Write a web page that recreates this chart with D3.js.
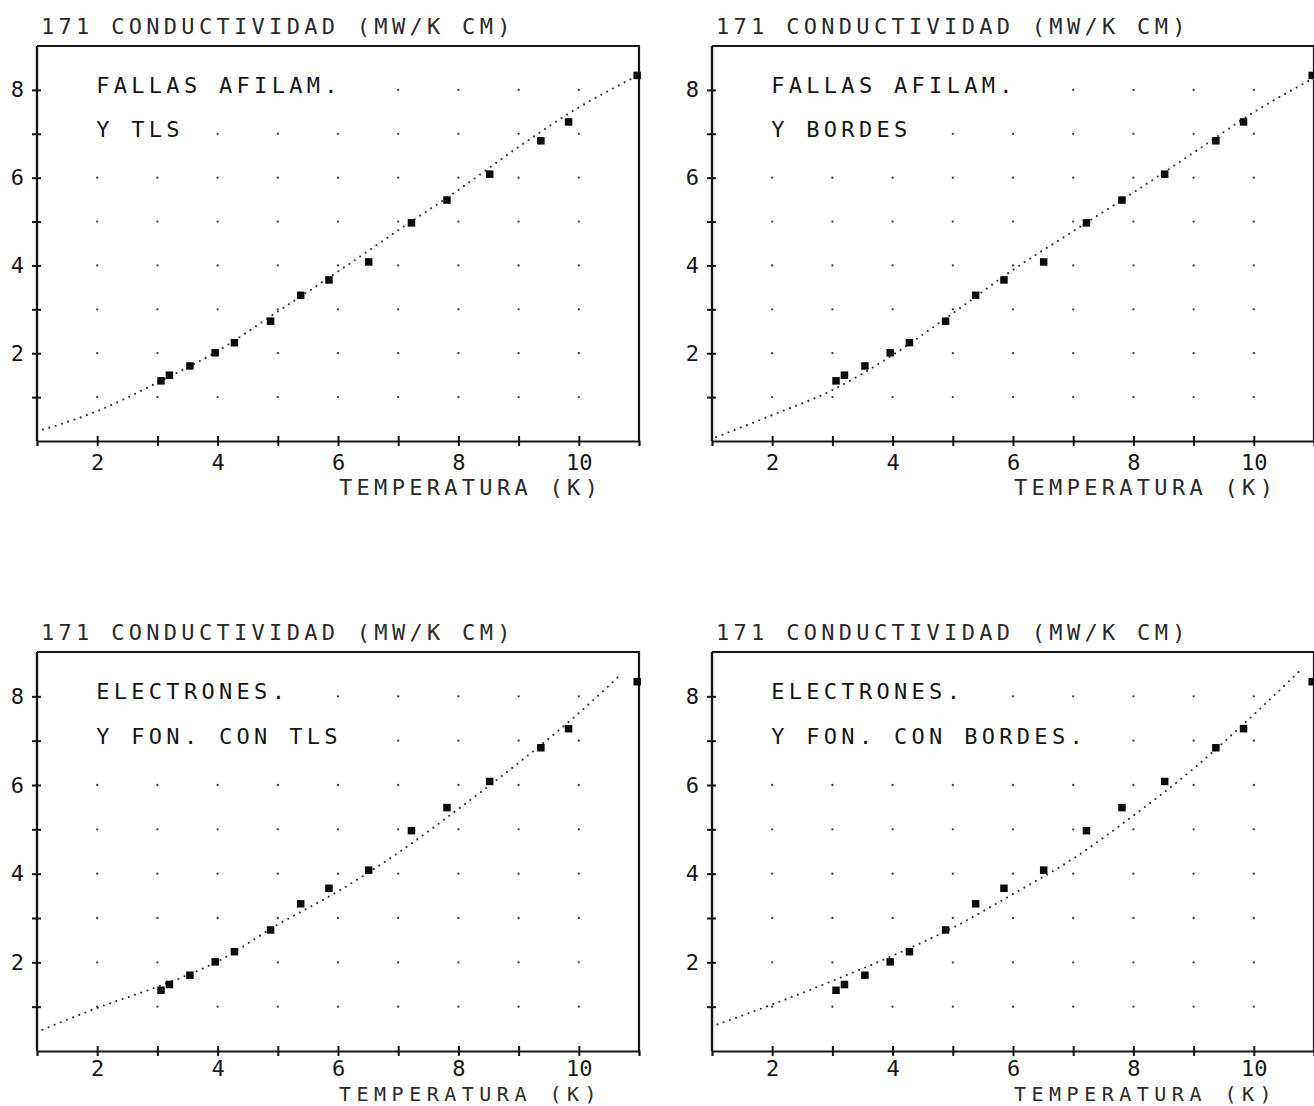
<!DOCTYPE html>
<html>
<head>
<meta charset="utf-8">
<script src="https://cdn.jsdelivr.net/npm/d3@7"></script>
<style>
  html, body { margin: 0; padding: 0; background: #fff; }
  svg { display: block; }
  text { font-family: "DejaVu Sans Mono", "Liberation Mono", monospace; font-size: 22px; }
</style>
</head>
<body>
<script>
// Measured thermal conductivity (same data set in every panel)
const TEMP = [3.06, 3.2, 3.54, 3.96, 4.28, 4.88, 5.38, 5.85, 6.51, 7.22, 7.81, 8.52, 9.37, 9.83, 10.97];
const COND = [1.37, 1.5, 1.71, 2.01, 2.24, 2.73, 3.32, 3.67, 4.08, 4.97, 5.49, 6.08, 6.84, 7.27, 8.33];

// Model curves, one per panel
const FIT_TLS_T    = [1.1, 2, 3, 4, 5, 6, 7, 8, 9, 10, 10.9];
const FIT_TLS_K    = [0.26, 0.68, 1.33, 2.05, 2.95, 3.86, 4.8, 5.72, 6.7, 7.6, 8.27];
const FIT_BORD_T   = [1.07, 2, 3, 4, 5, 6, 7, 8, 9, 10, 10.97];
const FIT_BORD_K   = [0.09, 0.59, 1.16, 1.96, 2.91, 3.9, 4.78, 5.66, 6.57, 7.49, 8.25];
const FIT_ETLS_T   = [1.09, 2, 3, 4, 5, 6, 7, 8, 9, 10, 10.68];
const FIT_ETLS_K   = [0.48, 0.97, 1.45, 2.02, 2.85, 3.6, 4.47, 5.46, 6.5, 7.62, 8.47];
const FIT_EBORD_T  = [1.09, 2, 3, 4, 5, 6, 7, 8, 9, 10, 10.8];
const FIT_EBORD_K  = [0.6, 1.05, 1.58, 2.15, 2.78, 3.54, 4.34, 5.31, 6.37, 7.59, 8.62];

// Axis ticks
const X_TICKS = [2, 3, 4, 5, 6, 7, 8, 9, 10];
const X_LABELED = [2, 4, 6, 8, 10];
const Y_TICKS = [1, 2, 3, 4, 5, 6, 7, 8];
const Y_LABELED = [2, 4, 6, 8];
const GRID_T = [2, 3, 4, 5, 6, 7, 8, 9, 10];
const GRID_K = [1, 2, 3, 4, 5, 6, 7, 8];

// Text
const Y_TITLE = "171 CONDUCTIVIDAD (MW/K CM)";
const X_TITLE = "TEMPERATURA (K)";
const LABELS = [
  ["FALLAS AFILAM.", "Y TLS"],
  ["FALLAS AFILAM.", "Y BORDES"],
  ["ELECTRONES.", "Y FON. CON TLS"],
  ["ELECTRONES.", "Y FON. CON BORDES."]
];

const FITS = [
  [FIT_TLS_T, FIT_TLS_K],
  [FIT_BORD_T, FIT_BORD_K],
  [FIT_ETLS_T, FIT_ETLS_K],
  [FIT_EBORD_T, FIT_EBORD_K]
];

// Panel placement on the page (bottom row sits against the page edge,
// so its x title is set a touch smaller and tighter)
const LAYOUT = [
  { ox: 0,   top: 46,  base: 441,  tickPad: 8, xTitleGap: 54, xTitleSize: 22, xTitleSpacing: 4.3 },
  { ox: 675, top: 46,  base: 441,  tickPad: 8, xTitleGap: 54, xTitleSize: 22, xTitleSpacing: 4.3 },
  { ox: 0,   top: 652, base: 1051, tickPad: 4, xTitleGap: 50, xTitleSize: 20, xTitleSpacing: 5.5 },
  { ox: 675, top: 652, base: 1051, tickPad: 4, xTitleGap: 50, xTitleSize: 20, xTitleSpacing: 5.5 }
];

const svg = d3.select("body").append("svg")
  .attr("width", 1314).attr("height", 1106);

const INK = "#151515";
const SPACING = "4.3px";

LAYOUT.forEach((L, i) => {
  const x = d3.scaleLinear().domain([1, 11]).range([L.ox + 37, L.ox + 639]);
  const y = d3.scaleLinear().domain([0, 9]).range([L.base, L.top]);
  const g = svg.append("g");

  // grid of dots at integer positions
  const grid = [];
  GRID_T.forEach(t => GRID_K.forEach(k => grid.push([t, k])));
  g.append("g").selectAll("circle").data(grid).join("circle")
    .attr("cx", d => x(d[0])).attr("cy", d => y(d[1]))
    .attr("r", 1.15).attr("fill", "#3a3a3a");

  // frame: top and right borders
  g.append("path")
    .attr("d", `M${x(1)},${y(9)}H${x(11)}V${y(0)}`)
    .attr("fill", "none").attr("stroke", INK).attr("stroke-width", 2.2);

  // bottom axis
  const xAxis = g.append("g")
    .attr("transform", `translate(0,${y(0)})`)
    .call(d3.axisBottom(x).tickValues(X_TICKS).tickSizeOuter(0).tickSize(5).tickPadding(L.tickPad)
      .tickFormat(d => X_LABELED.includes(d) ? d : ""));
  xAxis.select(".domain").attr("stroke", INK).attr("stroke-width", 2.2);
  xAxis.selectAll(".tick line").attr("y1", -5).attr("y2", 5).attr("stroke", INK).attr("stroke-width", 2);
  xAxis.selectAll(".tick text").attr("font-size", null).attr("font-family", null)
    .attr("fill", INK);

  // left axis
  const yAxis = g.append("g")
    .attr("transform", `translate(${x(1)},0)`)
    .call(d3.axisLeft(y).tickValues(Y_TICKS).tickSizeOuter(0).tickSize(5).tickPadding(8)
      .tickFormat(d => Y_LABELED.includes(d) ? d : ""));
  yAxis.select(".domain").attr("stroke", INK).attr("stroke-width", 2.4)
    .attr("d", `M0,${y(0)}V${y(9)}`);
  yAxis.selectAll(".tick line").attr("x1", -5).attr("x2", 4).attr("stroke", INK).attr("stroke-width", 2);
  yAxis.selectAll(".tick text").attr("font-size", null).attr("font-family", null)
    .attr("fill", INK);

  // axis titles
  g.append("text")
    .attr("x", L.ox + 41).attr("y", L.top - 12)
    .attr("fill", "#2a2a2a").style("letter-spacing", SPACING)
    .text(Y_TITLE);
  g.append("text")
    .attr("x", L.ox + 339).attr("y", L.base + L.xTitleGap)
    .attr("fill", "#2a2a2a")
    .style("font-size", L.xTitleSize + "px")
    .style("letter-spacing", L.xTitleSpacing + "px")
    .text(X_TITLE);

  // in-plot labels on white backing
  LABELS[i].forEach((line, j) => {
    const ty = y(8 - j) + 3;
    const bg = g.append("rect").attr("fill", "#fff");
    const t = g.append("text")
      .attr("x", x(2) - 1).attr("y", ty)
      .attr("fill", INK).style("letter-spacing", SPACING)
      .text(line);
    const bb = t.node().getBBox();
    bg.attr("x", bb.x - 2).attr("y", bb.y + 2)
      .attr("width", bb.width).attr("height", ty - bb.y + 1);
  });

  // model curve, dotted
  const [fT, fK] = FITS[i];
  const line = d3.line().curve(d3.curveMonotoneX)
    .x(d => x(d[0])).y(d => y(d[1]));
  g.append("path")
    .attr("d", line(fT.map((t, k) => [t, fK[k]])))
    .attr("fill", "none").attr("stroke", "#2b2b2b")
    .attr("stroke-width", 2.1).attr("stroke-linecap", "round")
    .attr("stroke-dasharray", "0 6.6");

  // measured points
  const s = 7.5;
  g.append("g").selectAll("rect").data(TEMP.map((t, k) => [t, COND[k]])).join("rect")
    .attr("x", d => x(d[0]) - s / 2).attr("y", d => y(d[1]) - s / 2)
    .attr("width", s).attr("height", s)
    .attr("fill", "#0a0a0a");
});
</script>
</body>
</html>
